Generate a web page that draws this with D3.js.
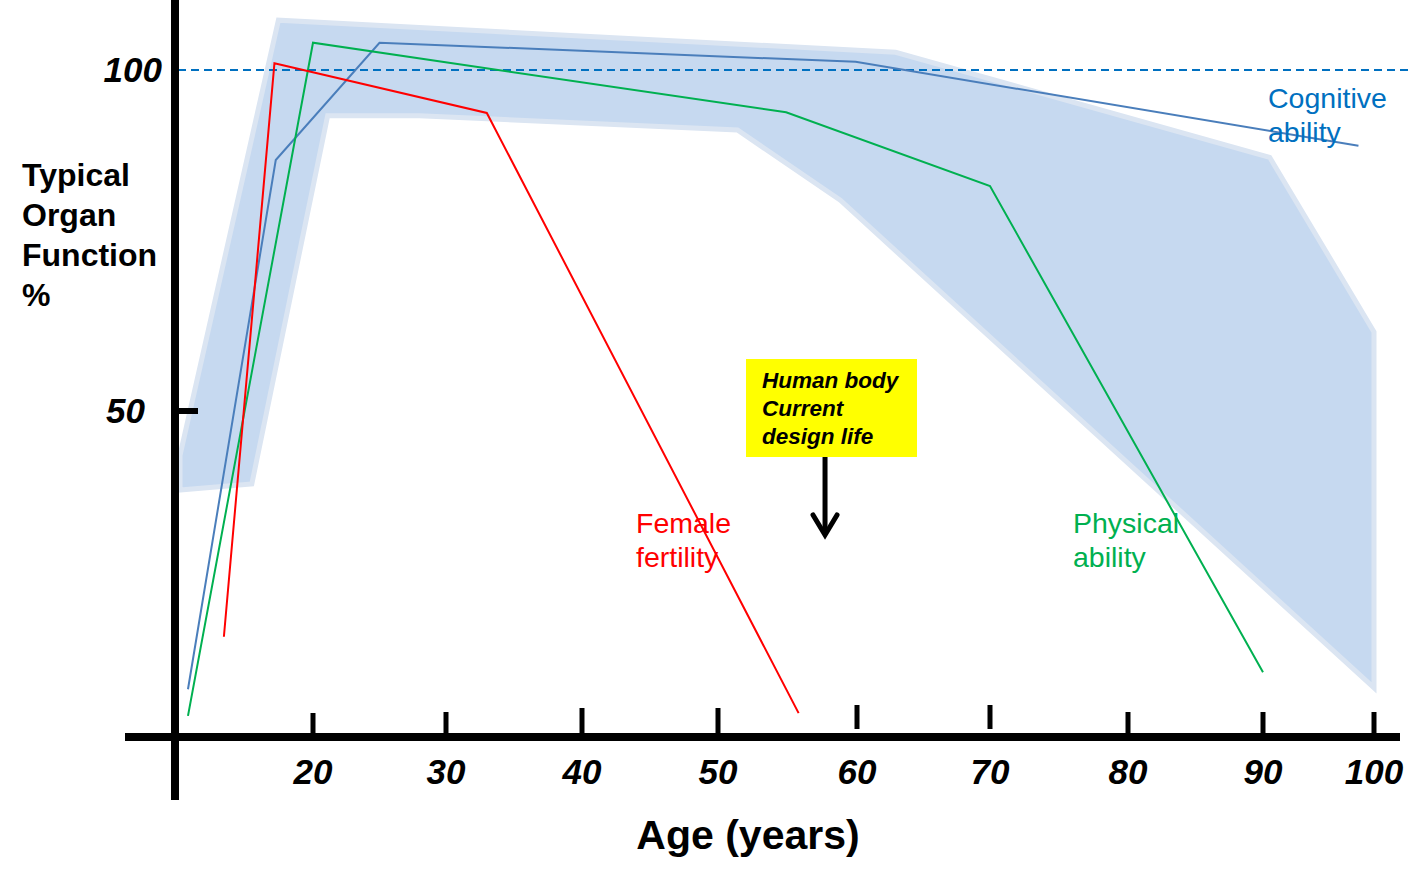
<!DOCTYPE html>
<html>
<head>
<meta charset="utf-8">
<script src="https://cdn.jsdelivr.net/npm/d3@7/dist/d3.min.js"></script>
<style>
  html, body { margin: 0; padding: 0; background: #ffffff; }
  svg { display: block; font-family: "Liberation Sans", Arial, sans-serif; }
</style>
</head>
<body>
<svg id="chart" width="1428" height="884"></svg>
<script>
// ---------- data ----------
const ageTicks = [20, 30, 40, 50, 60, 70, 80, 90, 100];
const valueTicks = [50, 100];
const referenceLevel = 100;

// series: [age, organ function %]
const femaleFertility = [[13.3, 16.9], [17.1, 101.0], [33.0, 93.7], [55.8, 5.7]];
const physicalAbility = [[10.6, 5.3], [20.0, 104.0], [54.9, 93.8], [70.0, 83.0], [90.0, 11.7]];
const cognitiveAbility = [[10.6, 9.2], [17.2, 86.8], [25.0, 104.0], [59.9, 101.2], [98.6, 88.9]];

// shaded range of typical organ function
const bandUpper = [[10.0, 43.5], [17.4, 107.3], [62.9, 102.6], [90.6, 87.2], [100.0, 61.6], [100.0, 9.4]];
const bandLower = [[58.8, 80.9], [51.4, 91.2], [28.0, 93.3], [21.1, 93.3], [15.4, 39.3], [10.0, 38.4]];

const designLifeAge = 57.7;

// ---------- scales ----------
const svg = d3.select("#chart");
const x = d3.scaleLinear()
  .domain(ageTicks)
  .range([313, 446, 582, 718, 857, 990, 1128, 1263, 1374]);
const y = d3.scaleLinear().domain([50, 100]).range([411, 70]);

const FONT = '"Liberation Sans", Arial, sans-serif';

// ---------- band ----------
const polyPts = bandUpper.concat(bandLower).map(d => [x(d[0]), y(d[1])]);
svg.append("path")
  .attr("d", d3.line()(polyPts) + "Z")
  .attr("fill", "#c6d9f0")
  .attr("stroke", "#dbe5f2")
  .attr("stroke-width", 5)
  .attr("stroke-linejoin", "miter");

// ---------- reference dashed line ----------
svg.append("line")
  .attr("x1", 178).attr("x2", 1408)
  .attr("y1", y(referenceLevel)).attr("y2", y(referenceLevel))
  .attr("stroke", "#0070c0")
  .attr("stroke-width", 2)
  .attr("stroke-dasharray", "8,5");

// ---------- series ----------
const line = d3.line().x(d => x(d[0])).y(d => y(d[1]));
const series = [
  { data: cognitiveAbility, color: "#4a7ebb" },
  { data: physicalAbility, color: "#00b050" },
  { data: femaleFertility, color: "#ff0000" }
];
svg.selectAll("path.series")
  .data(series)
  .join("path")
  .attr("class", "series")
  .attr("d", d => line(d.data))
  .attr("fill", "none")
  .attr("stroke", d => d.color)
  .attr("stroke-width", 2)
  .attr("stroke-linejoin", "miter");

// ---------- axes ----------
const axisY = 737;
const yAxisX = 175;
svg.append("line")
  .attr("x1", 125).attr("x2", 1400)
  .attr("y1", axisY).attr("y2", axisY)
  .attr("stroke", "#000").attr("stroke-width", 8);
svg.append("line")
  .attr("x1", yAxisX).attr("x2", yAxisX)
  .attr("y1", 0).attr("y2", 800)
  .attr("stroke", "#000").attr("stroke-width", 8);

// x tick marks (hand-drawn look)
const tickTop = { 20: 713, 30: 712, 40: 708, 50: 708, 60: 705, 70: 705, 80: 712, 90: 712, 100: 712 };
const tickBottom = { 60: 729, 70: 729 };
svg.selectAll("line.xtick")
  .data(ageTicks)
  .join("line")
  .attr("class", "xtick")
  .attr("x1", d => x(d)).attr("x2", d => x(d))
  .attr("y1", d => tickTop[d])
  .attr("y2", d => tickBottom[d] || axisY)
  .attr("stroke", "#000").attr("stroke-width", 5);

// x tick labels
svg.selectAll("text.xlabel")
  .data(ageTicks)
  .join("text")
  .attr("class", "xlabel")
  .attr("x", d => x(d))
  .attr("y", 784)
  .attr("text-anchor", "middle")
  .attr("font-family", FONT)
  .attr("font-size", 35)
  .attr("font-weight", "bold")
  .attr("font-style", "italic")
  .attr("fill", "#000")
  .text(d => d);

// y tick mark for 50
svg.selectAll("line.ytick")
  .data(valueTicks.filter(v => v !== referenceLevel))
  .join("line")
  .attr("class", "ytick")
  .attr("x1", yAxisX).attr("x2", 198)
  .attr("y1", d => y(d)).attr("y2", d => y(d))
  .attr("stroke", "#000").attr("stroke-width", 6);

// y tick labels
svg.selectAll("text.ylabel")
  .data(valueTicks)
  .join("text")
  .attr("class", "ylabel")
  .attr("x", d => d === 100 ? 162 : 145)
  .attr("y", d => y(d) + 12)
  .attr("text-anchor", "end")
  .attr("font-family", FONT)
  .attr("font-size", 35)
  .attr("font-weight", "bold")
  .attr("font-style", "italic")
  .attr("fill", "#000")
  .text(d => d);

// axis titles
const yTitle = ["Typical", "Organ", "Function", "%"];
svg.selectAll("text.ytitle")
  .data(yTitle)
  .join("text")
  .attr("class", "ytitle")
  .attr("x", 22)
  .attr("y", (d, i) => 186 + i * 40)
  .attr("font-family", FONT)
  .attr("font-size", 32)
  .attr("font-weight", "bold")
  .attr("fill", "#000")
  .text(d => d);

svg.append("text")
  .attr("x", 748).attr("y", 849)
  .attr("text-anchor", "middle")
  .attr("font-family", FONT)
  .attr("font-size", 41)
  .attr("font-weight", "bold")
  .attr("fill", "#000")
  .text("Age (years)");

// ---------- series labels ----------
const seriesLabels = [
  { lines: ["Female", "fertility"], x: 636, y: 533, color: "#ff0000" },
  { lines: ["Physical", "ability"], x: 1073, y: 533, color: "#00b050" },
  { lines: ["Cognitive", "ability"], x: 1268, y: 108, color: "#0070c0" }
];
seriesLabels.forEach(l => {
  svg.append("g").selectAll("text")
    .data(l.lines)
    .join("text")
    .attr("x", l.x)
    .attr("y", (d, i) => l.y + i * 34)
    .attr("font-family", FONT)
    .attr("font-size", 28.5)
    .attr("fill", l.color)
    .text(d => d);
});

// ---------- design-life annotation ----------
svg.append("rect")
  .attr("x", 746).attr("y", 359)
  .attr("width", 171).attr("height", 98)
  .attr("fill", "#ffff00");
["Human body", "Current", "design life"].forEach((t, i) => {
  svg.append("text")
    .attr("x", 762).attr("y", 388 + i * 28)
    .attr("font-family", FONT)
    .attr("font-size", 22.5)
    .attr("font-weight", "bold")
    .attr("font-style", "italic")
    .attr("fill", "#000")
    .text(t);
});
const ax = x(designLifeAge);
svg.append("line")
  .attr("x1", ax).attr("x2", ax)
  .attr("y1", 457).attr("y2", 534)
  .attr("stroke", "#000").attr("stroke-width", 5);
svg.append("path")
  .attr("d", `M${ax - 12},${515} L${ax},${535} L${ax + 12},${515}`)
  .attr("fill", "none")
  .attr("stroke", "#000")
  .attr("stroke-width", 5)
  .attr("stroke-linecap", "round")
  .attr("stroke-linejoin", "miter");
</script>
</body>
</html>
